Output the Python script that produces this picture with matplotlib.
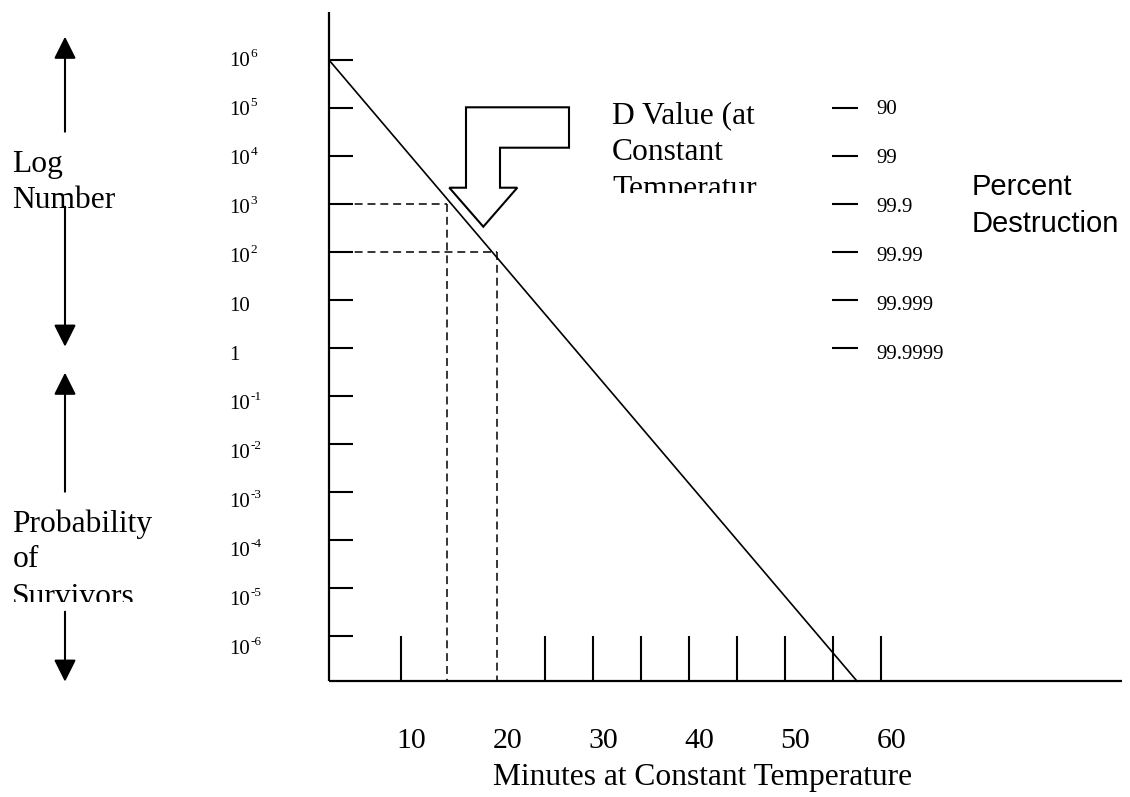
import matplotlib
matplotlib.use("Agg")
import matplotlib.pyplot as plt
from matplotlib.patches import Polygon, Rectangle

# ---------------- data ----------------
log_exponents = [6, 5, 4, 3, 2, 1, 0, -1, -2, -3, -4, -5, -6]
minute_ticks = [10, 25, 30, 35, 40, 45, 50, 55, 60]
minute_labels = [10, 20, 30, 40, 50, 60]
percent_levels = [5, 4, 3, 2, 1, 0]
percent_labels = ["90", "99", "99.9", "99.99", "99.999", "99.9999"]
line_minutes = [2.5, 57.5]
line_log = [6.0, -6.94]
dval_minutes = [14.8, 20.0]
dval_log = [3, 2]

axis_min_minute = 2.5
axis_max_minute = 85.1
axis_min_log = -6.94
axis_max_log = 7.0

# ---------------- layout helpers (pixel -> data) ----------------
def mx(px):
    return (px - 305) / 9.6

def ly(py):
    return 6 - (py - 60) / 48.0

FONT = "Liberation Serif"
SANS = "Liberation Sans"
BIG = 22.7
SMALL = 15
SUP = 9.5

fig = plt.figure(figsize=(11.3, 7.97), dpi=100)
ax = fig.add_axes([0, 0, 1, 1])
ax.set_xlim(mx(0), mx(1130))
ax.set_ylim(ly(797), ly(0))
ax.axis("off")

# axes lines
ax.plot([axis_min_minute, axis_min_minute], [axis_min_log, axis_max_log], color="black", lw=1.6, solid_capstyle="butt")
ax.plot([axis_min_minute, axis_max_minute], [axis_min_log, axis_min_log], color="black", lw=1.6, solid_capstyle="butt")

# y ticks
ax.hlines(log_exponents, axis_min_minute, mx(353), color="black", lw=1.5)
# x ticks
ax.vlines(minute_ticks, axis_min_log, -6.0, color="black", lw=1.5)

# survival line
ax.plot(line_minutes, line_log, color="black", lw=1.2)

# dashed D-value guides
for m, e in zip(dval_minutes, dval_log):
    ax.plot([axis_min_minute, m], [e, e], color="black", lw=1.1, linestyle=(0, (5.2, 3.2)))
    ax.plot([m, m], [e, axis_min_log], color="black", lw=1.1, linestyle=(0, (5.2, 3.2)))

# y tick labels
for i, e in enumerate(log_exponents):
    base_py = 65.7 + 49 * i
    if e == 0:
        base, sup = "1", ""
    elif e == 1:
        base, sup = "10", ""
    else:
        base, sup = "10", str(e)
    ax.text(mx(229), ly(base_py), base, ha="left", va="baseline", fontsize=SMALL, family=FONT)
    if sup:
        ax.text(mx(250.5), ly(base_py - 9), sup, ha="left", va="baseline", fontsize=SUP, family=FONT)

# x tick labels
for v in minute_labels:
    ax.text(v + 1.1, ly(748), str(v), ha="center", va="baseline", fontsize=21.5, family=FONT)
ax.text(mx(493), ly(785), "Minutes at Constant Temperature", ha="left", va="baseline", fontsize=BIG, family=FONT)

# percent destruction scale
ax.hlines(percent_levels, mx(832), mx(858), color="black", lw=1.5)
for i, lab in enumerate(percent_labels):
    ax.text(mx(876), ly(114 + 49 * i), lab, ha="left", va="baseline", fontsize=SMALL, family=FONT)
ax.text(mx(972), ly(195.5), "Percent", ha="left", va="baseline", fontsize=21, family=SANS)
ax.text(mx(972), ly(232), "Destruction", ha="left", va="baseline", fontsize=21, family=SANS)

full_w = mx(1130) - mx(0)

# D value label (clipped text box)
ax.text(mx(612), ly(123.3), "D Value (at", ha="left", va="baseline", fontsize=BIG, family=FONT)
ax.text(mx(612), ly(160), "Constant", ha="left", va="baseline", fontsize=BIG, family=FONT)
t = ax.text(mx(612), ly(197.5), "Temperatur", ha="left", va="baseline", fontsize=BIG, family=FONT)
clip1 = Rectangle((mx(0), ly(193.3)), full_w, ly(0) - ly(193.3), transform=ax.transData)
t.set_clip_path(clip1)
t.set_clip_on(True)

# bent block arrow
arrow_px = [(466, 107.3), (569, 107.3), (569, 147.7), (500, 147.7), (500, 187.7),
            (517.3, 187.7), (483.3, 226.7), (449.3, 187.7), (466, 187.7)]
ax.add_patch(Polygon([(mx(x), ly(y)) for x, y in arrow_px], closed=True,
                     facecolor="white", edgecolor="black", lw=1.5, joinstyle="miter"))

# left side labels with arrows
ax.text(mx(12.3), ly(171.7), "Log", ha="left", va="baseline", fontsize=BIG, family=FONT)
ax.text(mx(12.3), ly(207.7), "Number", ha="left", va="baseline", fontsize=BIG, family=FONT)
ax.text(mx(12.3), ly(531.7), "Probability", ha="left", va="baseline", fontsize=BIG, family=FONT)
ax.text(mx(12.3), ly(566.7), "of", ha="left", va="baseline", fontsize=BIG, family=FONT)
t2 = ax.text(mx(12.3), ly(605), "Survivors", ha="left", va="baseline", fontsize=BIG, family=FONT)
clip2 = Rectangle((mx(0), ly(601.5)), full_w, ly(0) - ly(601.5), transform=ax.transData)
t2.set_clip_path(clip2)
t2.set_clip_on(True)

arrows = [((65, 131.7), (65, 36.7)), ((65, 206.7), (65, 346.7)),
          ((65, 491.7), (65, 372.7)), ((65, 611.7), (65, 681.7))]
for (tx, ty), (hx, hy) in arrows:
    ax.annotate("", xy=(mx(hx), ly(hy)), xytext=(mx(tx), ly(ty)),
                arrowprops=dict(arrowstyle="-|>,head_length=1.0,head_width=0.5",
                                mutation_scale=13.5, lw=1.5, color="black",
                                shrinkA=0, shrinkB=0))

fig.savefig("out.png", dpi=100, facecolor="white")
